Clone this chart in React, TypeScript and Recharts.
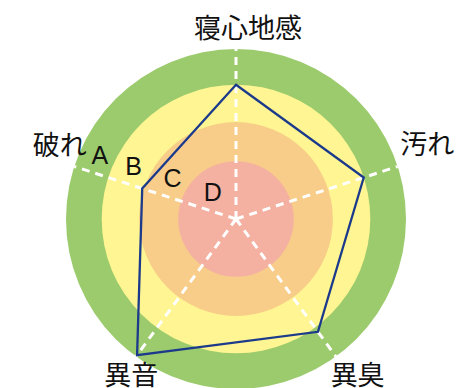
import React from 'react';
import { RadarChart, Radar, PolarAngleAxis, PolarRadiusAxis } from 'recharts';

const categories = ['寝心地感', '汚れ', '異臭', '異音', '破れ'];
const scores = [79, 79, 82, 99, 58];
const ringA = 100;
const ringB = 79;
const ringC = 57;
const ringD = 34;
const gradeLabels = ['A', 'B', 'C', 'D'];
const gradeTicks = [88, 67, 43, 18];

const data = categories.map((name, i) => ({
  name,
  score: scores[i],
  a: ringA,
  b: ringB,
  c: ringC,
  d: ringD,
  spoke: ringA,
}));

const RingShape = (props: any) => {
  const p = props.points && props.points[0];
  if (!p) return null;
  return <circle cx={p.cx} cy={p.cy} r={p.radius} fill={props.fill} stroke="none" />;
};

const SpokeShape = (props: any) => {
  const pts = props.points || [];
  return (
    <g>
      {pts.map((p: any, i: number) => (
        <line
          key={i}
          x1={p.cx}
          y1={p.cy}
          x2={p.x}
          y2={p.y}
          stroke="#ffffff"
          strokeWidth={3}
          strokeDasharray="8 6"
        />
      ))}
    </g>
  );
};

const labelOffsets = [
  [12, -15],
  [22, -21],
  [17, 10],
  [0, 10],
  [-7, -20],
];

const AngleTick = (props: any) => {
  const { x, y, payload, index } = props;
  const off = labelOffsets[index] || [0, 0];
  return (
    <text
      x={x + off[0]}
      y={y + off[1]}
      textAnchor="middle"
      dominantBaseline="central"
      fontFamily='"Noto Sans CJK JP", sans-serif'
      fontSize={27}
      fill="#111111"
    >
      {payload.value}
    </text>
  );
};

const GradeTick = (props: any) => {
  const { x, y, payload } = props;
  const idx = gradeTicks.indexOf(payload.value);
  return (
    <text
      x={x + 6}
      y={y - 18}
      textAnchor="middle"
      dominantBaseline="central"
      fontFamily='"Liberation Sans", Arial, sans-serif'
      fontSize={25}
      fill="#111111"
    >
      {idx >= 0 ? gradeLabels[idx] : ''}
    </text>
  );
};

export default function App() {
  return (
    <div style={{ position: 'absolute', left: 0, top: 0, width: 456, height: 388, background: '#ffffff' }}>
      <RadarChart
        width={456}
        height={388}
        data={data}
        cx={236}
        cy={219}
        outerRadius={170}
        margin={{ top: 0, right: 0, bottom: 0, left: 0 }}
      >
        <PolarRadiusAxis
          angle={162}
          domain={[0, 100]}
          ticks={gradeTicks as any}
          axisLine={false}
          tickLine={false}
          tick={false}
        />
        <Radar dataKey="a" fill="#9ccb6d" isAnimationActive={false} shape={<RingShape />} />
        <Radar dataKey="b" fill="#fff592" isAnimationActive={false} shape={<RingShape />} />
        <Radar dataKey="c" fill="#f8cd89" isAnimationActive={false} shape={<RingShape />} />
        <Radar dataKey="d" fill="#f4b1a1" isAnimationActive={false} shape={<RingShape />} />
        <Radar dataKey="spoke" isAnimationActive={false} shape={<SpokeShape />} />
        <Radar
          dataKey="score"
          stroke="#1b3a8c"
          strokeWidth={2.3}
          fill="none"
          fillOpacity={0}
          dot={false}
          isAnimationActive={false}
        />
        <PolarRadiusAxis
          angle={162}
          domain={[0, 100]}
          ticks={gradeTicks as any}
          axisLine={false}
          tickLine={false}
          tick={<GradeTick />}
        />
        <PolarAngleAxis dataKey="name" tickLine={false} axisLine={false} tick={<AngleTick />} />
      </RadarChart>
    </div>
  );
}
